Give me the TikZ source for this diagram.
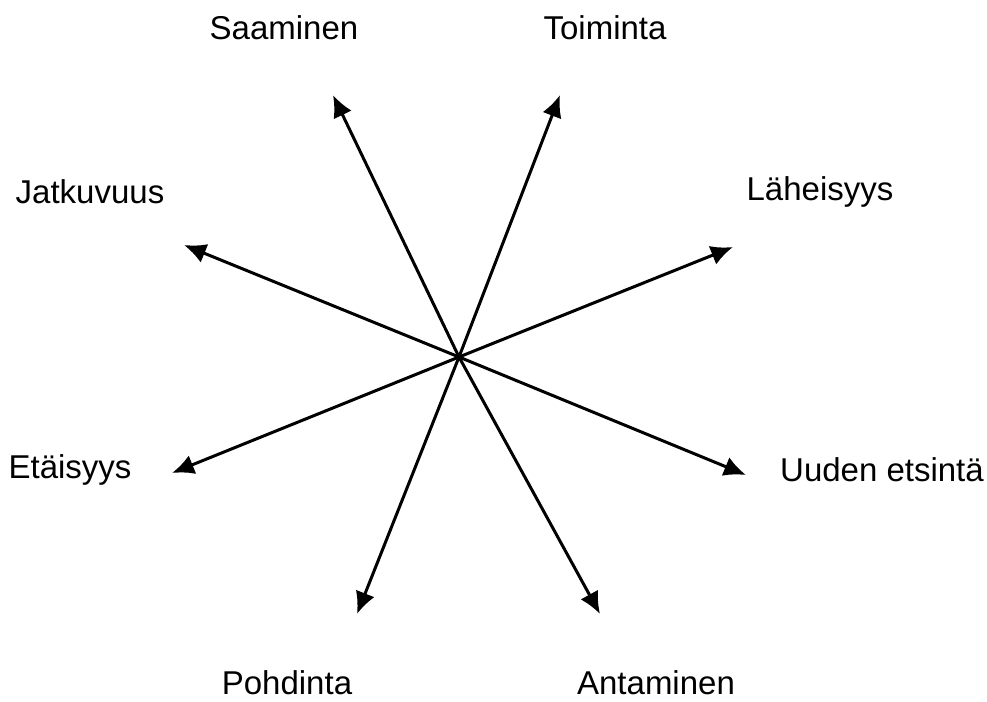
\documentclass[tikz,border=0pt]{standalone}
\usepackage{fontspec}
\setmainfont{Liberation Sans}
\usetikzlibrary{arrows.meta}
\tikzstyle{word}=[inner sep=0pt, font=\fontsize{16.5}{20}\selectfont]
\tikzstyle{ray}=[line width=1.5pt, -{Latex[length=11pt,width=10pt]}]

\begin{document}
\begin{tikzpicture}[x=0.5pt, y=-0.5pt]
          \useasboundingbox (0, 0) rectangle (987, 702);
          \coordinate (centre) at (459, 357);
          % arrow ends
          \coordinate (saa) at (333, 95);
          \coordinate (toi) at (560, 95);
          \coordinate (lah) at (733, 247);
          \coordinate (uud) at (746, 475);
          \coordinate (ant) at (600, 614);
          \coordinate (poh) at (357, 614);
          \coordinate (eta) at (172, 473);
          \coordinate (jat) at (184, 245);
          % labels
          \node[word] (saaminen) at (284, 28) {Saaminen};
          \node[word] (toiminta) at (605, 28) {Toiminta};
          \node[word] (jatkuvuus) at (90, 192) {Jatkuvuus};
          \node[word] (laheisyys) at (820, 192) {Läheisyys};
          \node[word] (etaisyys) at (70, 470) {Etäisyys};
          \node[word] (uuden) at (882, 470) {Uuden etsintä};
          \node[word] (pohdinta) at (287, 683) {Pohdinta};
          \node[word] (antaminen) at (656, 683) {Antaminen};
          \draw[ray] (centre) -- (saa);
          \draw[ray] (centre) -- (toi);
          \draw[ray] (centre) -- (lah);
          \draw[ray] (centre) -- (uud);
          \draw[ray] (centre) -- (ant);
          \draw[ray] (centre) -- (poh);
          \draw[ray] (centre) -- (eta);
          \draw[ray] (centre) -- (jat);
        \end{tikzpicture}
\end{document}
